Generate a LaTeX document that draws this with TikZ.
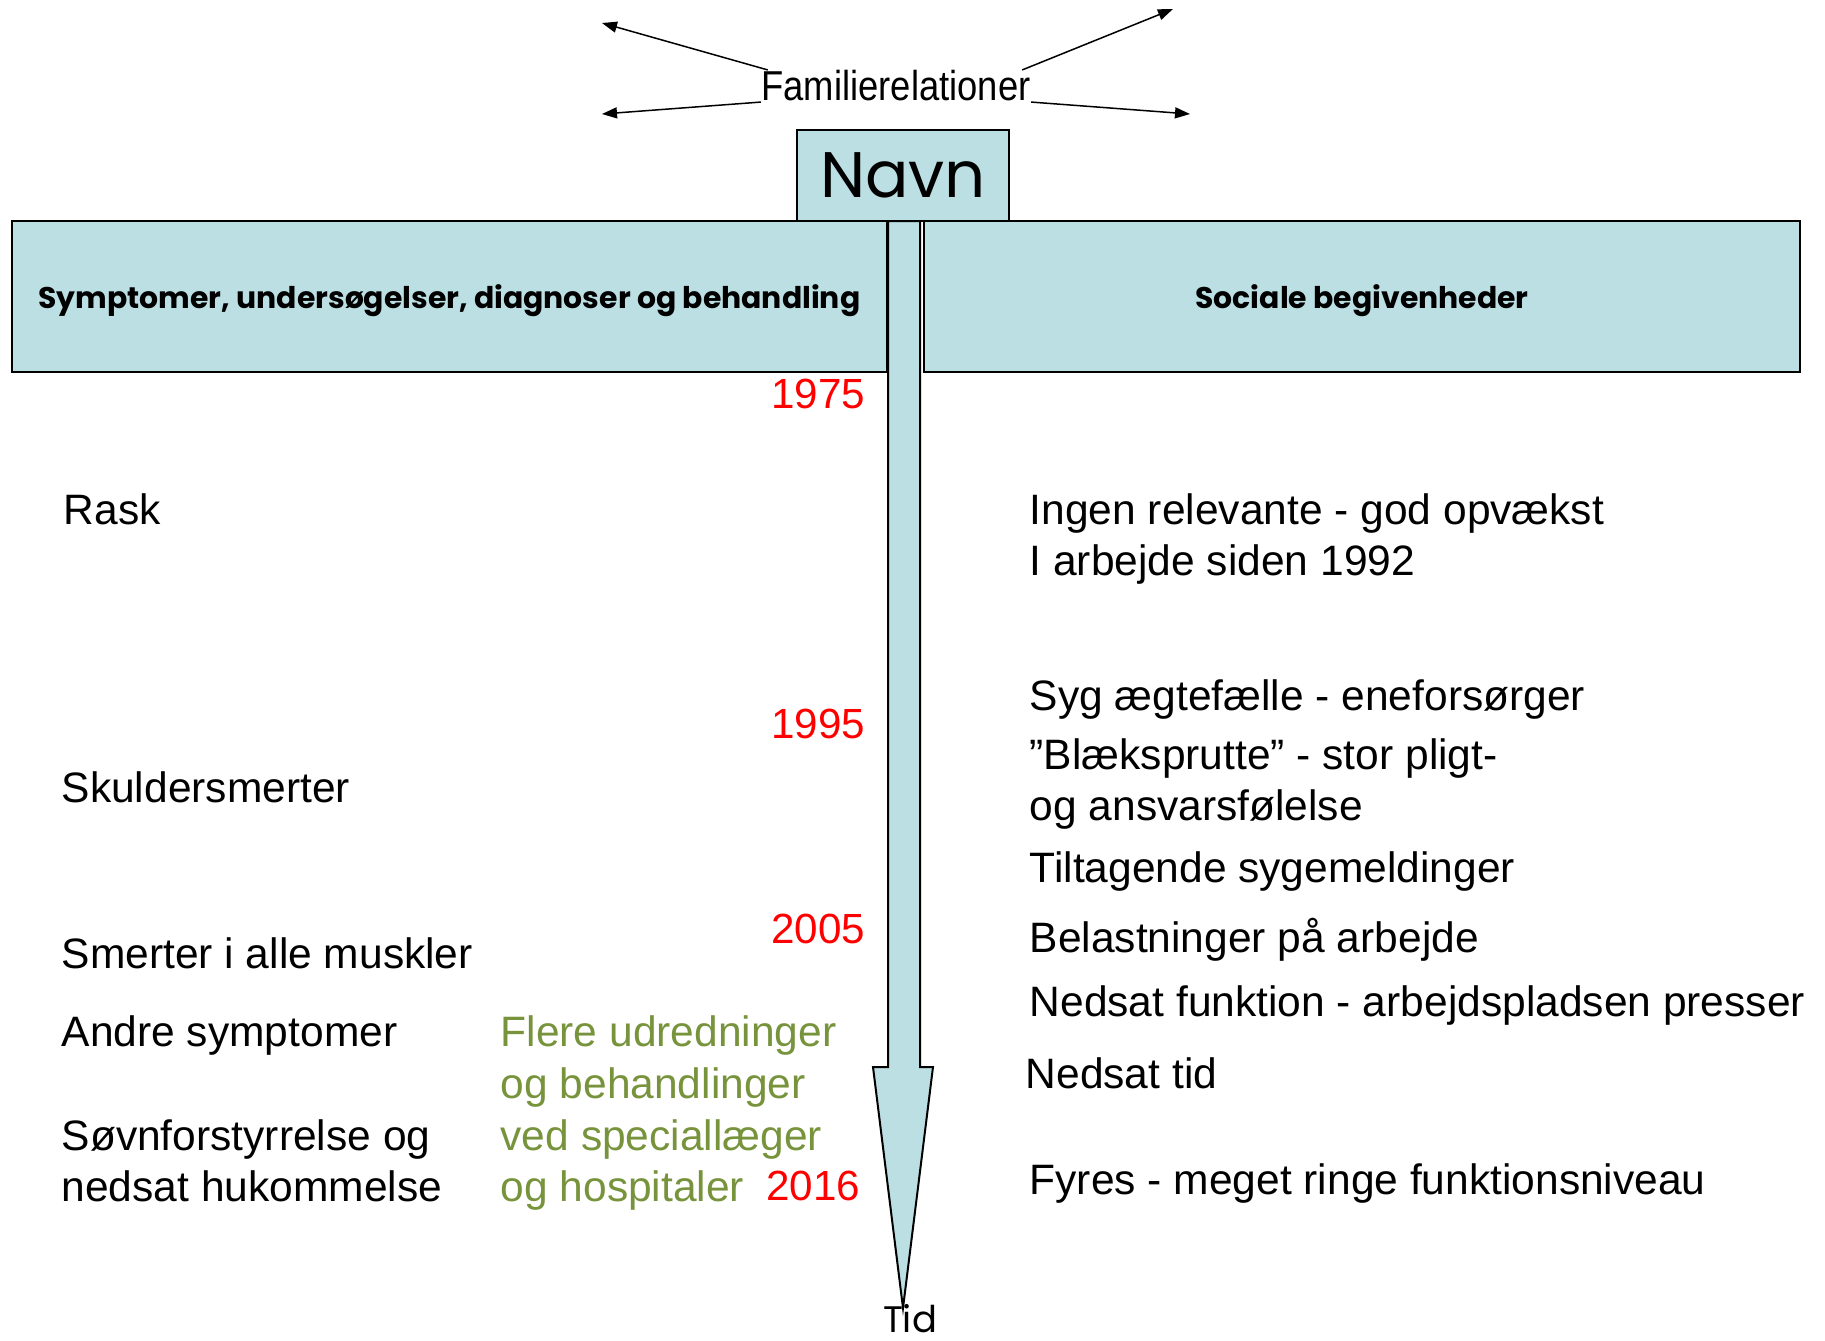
\documentclass[tikz,border=0pt]{standalone}
\usepackage{fontspec}
\setmainfont{Liberation Sans}
\newfontfamily\gothicfont{Poppins}
\newfontfamily\narrowfont[FakeStretch=0.87]{Liberation Sans}
\usetikzlibrary{arrows.meta}
\definecolor{boxblue}{RGB}{187,223,227}
\definecolor{olivetxt}{RGB}{119,147,60}
\tikzset{txt/.style={anchor=base west, inner sep=0pt, font=\fontsize{12.1}{14.6}\selectfont}}
\tikzset{yeartxt/.style={anchor=base east, inner sep=0pt, text=red, font=\fontsize{12}{14.6}\selectfont}}
\tikzset{greentxt/.style={txt, text=olivetxt}}
\tikzset{headbox/.style={draw, fill=boxblue, line width=0.2mm, inner sep=0pt,
      text height=9pt, text depth=2.3pt,
      font=\gothicfont\bfseries\fontsize{8.5}{10}\selectfont}}
\tikzset{famarrow/.style={-{Triangle[length=1.5mm,width=1.1mm]}, line width=0.15mm}}

\begin{document}
\begin{tikzpicture}[x=0.1mm,y=-0.1mm]
    \useasboundingbox (0,0) rectangle (1825,1340);

    \node[headbox, minimum width=87.5mm, minimum height=15.1mm] (venstre) at (449.5,296.5)
        {Symptomer, undersøgelser, diagnoser og behandling};
    \node[headbox, minimum width=87.6mm, minimum height=15.1mm] (hoejre) at (1362,296.5)
        {Sociale begivenheder};

    \draw[fill=boxblue, line width=0.2mm] (888,221) -- (920,221) -- (920,1067) -- (933,1067)
        -- (903,1308) -- (873,1067) -- (888,1067) -- cycle;
    \node[headbox, font=\gothicfont\fontsize{18.3}{20}\selectfont, text height=, text depth=,
        minimum width=21.2mm, minimum height=9.1mm] (navn) at (903,175.5) {Navn};
    \node[inner sep=0pt, font=\gothicfont\fontsize{10.5}{12}\selectfont] (tid) at (910,1319) {Tid};

    \node[inner sep=0pt, font=\narrowfont\fontsize{11.9}{13}\selectfont] (fam) at (896,86) {Familierelationer};
    \coordinate (lt) at (602,23);
    \coordinate (lb) at (602,114);
    \coordinate (rt) at (1173,9);
    \coordinate (rb) at (1190,114);
    \draw[famarrow] ([xshift=0.7mm]fam.north west) -- (lt);
    \draw[famarrow] (fam.south west) -- (lb);
    \draw[famarrow] ([xshift=-0.9mm]fam.north east) -- (rt);
    \draw[famarrow] (fam.south east) -- (rb);

    \node[yeartxt] (y1975) at (866,408) {1975};
    \node[yeartxt] (y1995) at (866,738) {1995};
    \node[yeartxt] (y2005) at (866,943) {2005};
    \node[yeartxt] (y2016) at (861,1200) {2016};

    \node[txt] (rask) at (63,524) {Rask};
    \node[txt] (skulder) at (61,802) {Skuldersmerter};
    \node[txt] (muskler) at (61,968) {Smerter i alle muskler};
    \node[txt] (andre) at (61,1046) {Andre symptomer};
    \node[txt] (soevn) at (61,1150) {Søvnforstyrrelse og};
    \node[txt] (hukom) at (61,1201) {nedsat hukommelse};

    \node[greentxt] (flere) at (500,1046) {Flere udredninger};
    \node[greentxt] (behand) at (500,1098) {og behandlinger};
    \node[greentxt] (special) at (500,1150) {ved speciallæger};
    \node[greentxt] (hosp) at (500,1201) {og hospitaler};

    \node[txt] (ingen) at (1029,524) {Ingen relevante - god opvækst};
    \node[txt] (arbejde) at (1029,575) {I arbejde siden 1992};
    \node[txt] (syg) at (1029,710) {Syg ægtefælle - eneforsørger};
    \node[txt] (blaek) at (1029,769) {”Blæksprutte” - stor pligt-};
    \node[txt] (ansvar) at (1029,820) {og ansvarsfølelse};
    \node[txt] (tiltag) at (1029,882) {Tiltagende sygemeldinger};
    \node[txt] (belast) at (1029,952) {Belastninger på arbejde};
    \node[txt] (funktion) at (1029,1016) {Nedsat funktion - arbejdspladsen presser};
    \node[txt] (nedsat) at (1025,1088) {Nedsat tid};
    \node[txt] (fyres) at (1029,1194) {Fyres - meget ringe funktionsniveau};
\end{tikzpicture}
\end{document}
